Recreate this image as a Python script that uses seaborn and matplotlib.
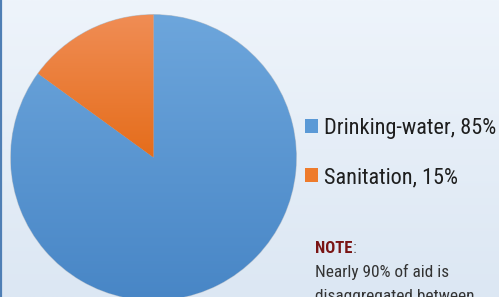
import numpy as np
import matplotlib.pyplot as plt
import seaborn as sns
from matplotlib.patches import Patch
from matplotlib.colors import LinearSegmentedColormap

# data
categories = ['Drinking-water', 'Sanitation']
shares = [85, 15]
labels = [f'{c}, {v}%' for c, v in zip(categories, shares)]
note_lines = ['Nearly 90% of aid is', 'disaggregated between']

sns.set_style('white')
plt.rcParams['font.family'] = ['Liberation Sans Narrow', 'Roboto Condensed',
                               'Roboto', 'DejaVu Sans']

colors = ['#5a99d6', '#ee7b2c']
grad = [('#4886c6', '#6da6dc'), ('#e56d1b', '#f08d55')]

W, H = 499, 297
fig = plt.figure(figsize=(W / 100, H / 100), dpi=100)

# background gradient
bg = fig.add_axes([0, 0, 1, 1])
bg_cmap = LinearSegmentedColormap.from_list('bg', ['#dce7f3', '#eef4fb'])
bg.imshow(np.linspace(0, 1, 256).reshape(-1, 1), cmap=bg_cmap, origin='lower',
          aspect='auto', extent=(0, 1, 0, 1))
bg.set_axis_off()
bg.plot([0.002, 0.002], [0, 1], color='#4f7fb5', lw=1.6, transform=bg.transAxes)

# pie
ax = fig.add_axes([10 / W, -4 / H, 287 / W, 287 / H])
ax.set_facecolor('none')
wedges, _ = ax.pie(shares, colors=colors, startangle=144, counterclock=True,
                   wedgeprops=dict(edgecolor='#b9c4d0', linewidth=0.8))
exts = [(-1, 1, -1, 1), (-1, 1, 0, 1)]
for w, (lo, hi), ext in zip(wedges, grad, exts):
    cm = LinearSegmentedColormap.from_list('w', [lo, hi])
    im = ax.imshow(np.linspace(0, 1, 256).reshape(-1, 1), cmap=cm, origin='lower',
                   aspect='auto', extent=ext, zorder=w.get_zorder() + 0.1)
    im.set_clip_path(w)
ax.set_xlim(-1.005, 1.005)
ax.set_ylim(-1.005, 1.005)
ax.set_axis_off()

# legend
handles = [Patch(facecolor=c, edgecolor='none') for c in colors]
fig.legend(handles, labels, loc='upper left', bbox_to_anchor=(305 / W, 1 - 118 / H),
           frameon=False, fontsize=16, handlelength=0.6, handleheight=0.6,
           handletextpad=0.25, labelspacing=1.26, borderpad=0, borderaxespad=0,
           labelcolor='#1e1e1e')

# note
fig.text(315 / W, 1 - 253 / H, 'NOTE', color='#7a1414', fontsize=12,
         fontweight='bold', va='baseline')
fig.text(353 / W, 1 - 253 / H, ':', color='#666666', fontsize=12, va='baseline')
for i, line in enumerate(note_lines):
    fig.text(315 / W, 1 - (277 + 24 * i) / H, line, color='#333333', fontsize=12.4,
             va='baseline')

fig.savefig('out.png', dpi=100)
